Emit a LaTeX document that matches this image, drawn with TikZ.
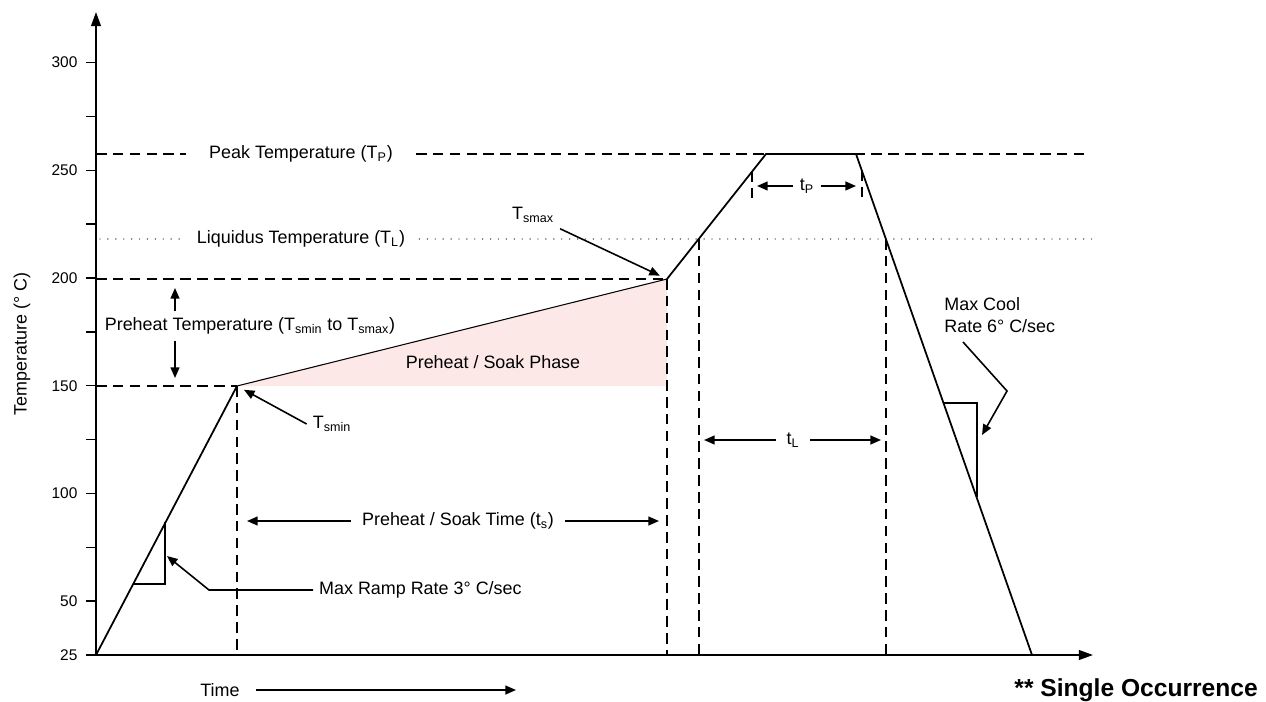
\documentclass[tikz,border=0pt]{standalone}
\usepackage{fontspec}
\setmainfont{Liberation Sans}
\usetikzlibrary{arrows.meta}
\definecolor{soakpink}{HTML}{FDE8E8}

\begin{document}
\begin{tikzpicture}[
    x=0.02cm, y=-0.02cm,
    every node/.style={font=\fontsize{10.2}{12.4}\selectfont},
    prof/.style={line width=1pt},
    guide/.style={line width=0.9pt, dash pattern=on 6pt off 3.6pt},
    liqdots/.style={line width=0.8pt, dash pattern=on 0pt off 4.5pt, line cap=round, black!85},
    arr/.style={line width=0.9pt, -{Triangle[length=6pt,width=5pt]}},
    axis/.style={line width=1.1pt, -{Triangle[length=8pt,width=5.5pt]}},
    ticklbl/.style={left, inner sep=4.5pt, font=\fontsize{8.8}{10}\selectfont},
  ]
    \useasboundingbox (0,0) rectangle (1266,702);
    \def\ppd{2.154}                        % pixels per degree C

    % profile points
    \coordinate (p0)   at (96,655);
    \coordinate (smin) at (237,386);
    \coordinate (smax) at (667,279);
    \coordinate (pk1)  at (766,154);
    \coordinate (pk2)  at (856,154);
    \coordinate (pend) at (1032,655);
    \coordinate (liq1) at (699,239);
    \coordinate (liq2) at (886,239);

    % soak area
    \fill[soakpink] (smin) -- (smax) -- (smax |- smin) -- cycle;

    % axes
    \draw[axis] (p0) -- (96,12);
    \draw[axis] (p0) -- (1093,655);

    % ticks and values
    \foreach \v in {25,50,100,150,200,250,300}
      \draw[line width=0.8pt] (96,{655-(\v-25)*\ppd}) -- (86,{655-(\v-25)*\ppd})
        node[ticklbl] (tk\v) {\v};
    \foreach \v in {75,125,...,275}
      \draw[line width=0.8pt] (96,{655-(\v-25)*\ppd}) -- (86,{655-(\v-25)*\ppd});

    \node[rotate=90] (ylbl) at (22,344) {Temperature (° C)};

    % peak and liquidus lines
    \node[inner xsep=13pt] (peaklbl) at (301,154) {Peak Temperature (T\textsubscript{P})};
    \draw[guide] (96,154) -- (peaklbl.west);
    \draw[guide] (peaklbl.east) -- (1090,154);
    \node[inner xsep=8pt] (liqlbl) at (301,239) {Liquidus Temperature (T\textsubscript{L})};
    \draw[liqdots] (100,239) -- (liqlbl.west);
    \draw[liqdots] (liqlbl.east) -- (1096,239);

    % preheat guides
    \draw[guide] (96,279) -- (smax);
    \draw[guide] (96,386) -- (smin);
    \draw[guide] (smin) -- (smin |- p0);
    \draw[guide] (smax) -- (smax |- p0);
    \draw[guide] (liq1) -- (liq1 |- p0);
    \draw[guide] (liq2) -- (liq2 |- p0);
    \draw[guide] (752,171) -- (752,200);
    \draw[guide] (862,170) -- (862,200);

    % profile
    \draw[prof] (p0) -- (smin);
    \draw[line width=0.6pt] (smin) -- (smax);
    \draw[prof] (smax) -- (pk1) -- (pk2) -- (pend);

    % preheat temperature
    \node (ptlbl) at (250,326) {Preheat Temperature (T\textsubscript{smin} to T\textsubscript{smax})};
    \coordinate (ptup) at (175,288);
    \coordinate (ptdn) at (175,378);
    \draw[arr] (ptlbl.north -| ptup) -- (ptup);
    \draw[arr] (ptlbl.south -| ptdn) -- (ptdn);

    \node (phase) at (493,362) {Preheat / Soak Phase};

    % Tsmin / Tsmax
    \node (tsmaxlbl) at (533,215) {T\textsubscript{smax}};
    \draw[arr, shorten >=4.5pt] (tsmaxlbl.south east) -- (smax);
    \node (tsminlbl) at (332,424) {T\textsubscript{smin}};
    \draw[arr, shorten >=4.5pt] (tsminlbl.west) -- (smin);

    % soak time
    \node[inner xsep=6pt] (tslbl) at (458,521) {Preheat / Soak Time (t\textsubscript{s})};
    \draw[arr] (tslbl.west) -- (tslbl.west -| 247,0);
    \draw[arr] (tslbl.east) -- (tslbl.east -| 659,0);

    % tP and tL
    \node[inner xsep=3.5pt] (tplbl) at (807,186) {t\textsubscript{P}};
    \draw[arr] (tplbl.west) -- (tplbl.west -| 757,0);
    \draw[arr] (tplbl.east) -- (tplbl.east -| 856,0);
    \node[inner xsep=6pt] (tllbl) at (793,440) {t\textsubscript{L}};
    \draw[arr] (tllbl.west) -- (tllbl.west -| 704,0);
    \draw[arr] (tllbl.east) -- (tllbl.east -| 881,0);

    % ramp rate
    \draw[line width=0.8pt] (133,584) -- (165,584) -- (165,522);
    \node[anchor=west] (rrlbl) at (313,590) {Max Ramp Rate 3° C/sec};
    \coordinate (rrbend) at (209,590);
    \coordinate (rrtip)  at (167,556);
    \draw[arr] (rrlbl.west) -- (rrbend) -- (rrtip);

    % cool rate
    \draw[line width=0.8pt] (944,403) -- (977,403) -- (977,497);
    \node[anchor=north west, align=left, inner sep=0pt] (mclbl) at (944,297) {Max Cool\\Rate 6° C/sec};
    \coordinate (mctail) at (963,342);
    \coordinate (mcbend) at (1007,391);
    \coordinate (mctip)  at (982,435);
    \draw[arr] (mctail) -- (mcbend) -- (mctip);

    % time
    \node[inner xsep=9pt] (timelbl) at (220,690) {Time};
    \coordinate (timetip) at (516,690);
    \draw[arr] (timelbl.east) -- (timetip);

    \node[anchor=east, font=\bfseries\fontsize{14}{16}\selectfont] (single) at (1264,690) {** Single Occurrence};
  \end{tikzpicture}
\end{document}
